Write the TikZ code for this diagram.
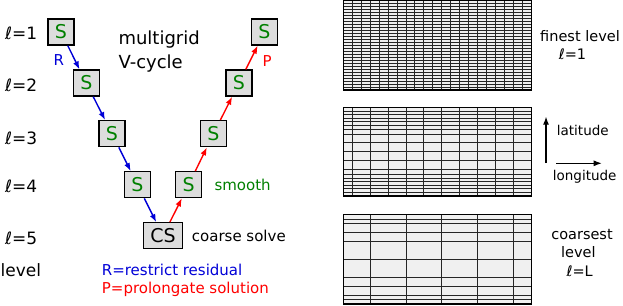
\documentclass[tikz,border=0pt]{standalone}
\usepackage{fontspec}
\setmainfont{DejaVu Sans}
\usetikzlibrary{arrows.meta}
\definecolor{sgreen}{RGB}{0,128,0}
\definecolor{rblue}{RGB}{0,0,215}
\definecolor{pred}{RGB}{255,0,0}
\definecolor{boxgray}{RGB}{221,221,221}
\definecolor{gridfill}{RGB}{240,240,240}
\newcommand{\fsz}[1]{\fontsize{#1}{#1}\selectfont}
\begin{document}
\begin{tikzpicture}[x=1pt,y=-1pt,
  sbox/.style={draw=black,line width=1.3pt,fill=boxgray,minimum width=26pt,minimum height=26pt,inner sep=0pt,font=\fsz{19},text=sgreen},
  cbox/.style={sbox,minimum width=39pt,text=black},
  rarrow/.style={draw=rblue,line width=1.4pt,-{Latex[length=8pt,width=6pt]}},
  parrow/.style={draw=pred,line width=1.4pt,-{Latex[length=8pt,width=6pt]}},
  axarrow/.style={draw=black,line width=1.1pt,-{Latex[length=8pt,width=6pt]}},
  lvl/.style={font=\fsz{17},anchor=base west,inner sep=0pt},
  big/.style={font=\fsz{18},anchor=base west,inner sep=0pt},
  txt/.style={font=\fsz{15},anchor=base west,inner sep=0pt},
  rtxt/.style={font=\fsz{14.5},anchor=base,inner sep=0pt},
  gline/.style={draw=black!85,line width=0.9pt},
  gborder/.style={draw=black,line width=1.6pt},
]
\useasboundingbox (0,0) rectangle (623,305);

% level labels
\node[lvl] (l1) at (5,40) {ℓ=1};
\node[lvl] (l2) at (5,91.7) {ℓ=2};
\node[lvl] (l3) at (5,144.3) {ℓ=3};
\node[lvl] (l4) at (5,192.3) {ℓ=4};
\node[lvl] (l5) at (5,244.3) {ℓ=5};
\node[lvl] (lv) at (0.5,276) {level};

% boxes
\node[sbox] (a1) at (61,32) {S};
\node[sbox] (a2) at (86.3,83) {S};
\node[sbox] (a3) at (112,133.7) {S};
\node[sbox] (a4) at (137.5,184.7) {S};
\node[cbox] (cs) at (163,235.8) {CS};
\node[sbox] (b4) at (188.7,184.7) {S};
\node[sbox] (b3) at (213.5,133.7) {S};
\node[sbox] (b2) at (239,83) {S};
\node[sbox] (b1) at (264.5,32) {S};

\draw[rarrow] (a1) -- (a2);
\draw[rarrow] (a2) -- (a3);
\draw[rarrow] (a3) -- (a4);
\draw[rarrow] (a4) -- (cs);
\draw[parrow] (cs) -- (b4);
\draw[parrow] (b4) -- (b3);
\draw[parrow] (b3) -- (b2);
\draw[parrow] (b2) -- (b1);

\node[big] (mg) at (118.3,45) {multigrid};
\node[big] (vc) at (118.3,68.3) {V-cycle};
\node[txt,text=rblue] (rl) at (53.3,66) {R};
\node[txt,text=pred] (pl) at (262.3,66.7) {P};
\node[txt,text=sgreen] (sm) at (214.3,190) {smooth};
\node[txt] (cso) at (191.7,241.7) {coarse solve};
\node[txt,text=rblue] (rr) at (101.7,275) {R=restrict residual};
\node[txt,text=pred] (pp) at (101.7,293.3) {P=prolongate solution};

% finest grid
\fill[gridfill] (343.3,0.7) rectangle (531.3,90.1);
\foreach \k in {1,...,20} \draw[gline] ({343.3+\k*8.952},0.7) -- ++(0,89.4);
\foreach \k in {1,...,29} \draw[gline] (343.3,{0.7+\k*89.4/30}) -- ++(188,0);
\draw[gborder] (343.3,0.7) rectangle (531.3,90.1);

% middle grid
\fill[gridfill] (343.3,107.3) rectangle (531.3,195.7);
\foreach \k in {1,3,...,19} \draw[gline] ({343.3+\k*8.952},107.3) -- ++(0,88.4);
\foreach \o in {0,9,-9,17.5,-17.5,22.5,-22.5,26.5,-26.5,30,-30,33.5,-33.5,37,-37,40.5,-40.5} \draw[gline] (343.3,{151.5+\o}) -- ++(188,0);
\draw[gborder] (343.3,107.3) rectangle (531.3,195.7);

% coarsest grid
\fill[gridfill] (343.3,214.3) rectangle (531.3,303.7);
\foreach \k in {3,7,11,15,19} \draw[gline] ({343.3+\k*8.952},214.3) -- ++(0,89.4);
\foreach \o in {0,18,-18,27,-27,36,-36,40,-40} \draw[gline] (343.3,{259+\o}) -- ++(188,0);
\draw[gborder] (343.3,214.3) rectangle (531.3,303.7);

% right labels
\node[rtxt] (fl) at (580,41.7) {finest level};
\node[rtxt] (f1) at (572.5,59.3) {ℓ=1};
\node[rtxt] (c1) at (582,239.3) {coarsest};
\node[rtxt] (c2) at (578.3,257.3) {level};
\node[rtxt] (c3) at (579.7,276.7) {ℓ=L};

\coordinate (lat0) at (546,163);
\coordinate (lat1) at (546,116.7);
\coordinate (lon0) at (556,163.3);
\coordinate (lon1) at (601.7,163.3);
\draw[axarrow] (lat0) -- (lat1);
\draw[axarrow] (lon0) -- (lon1);
\node[font=\fsz{13.5},anchor=base west,inner sep=0pt] (la) at (556.7,135.7) {latitude};
\node[font=\fsz{13.5},anchor=base west,inner sep=0pt] (lo) at (552.7,180) {longitude};
\end{tikzpicture}
\end{document}
